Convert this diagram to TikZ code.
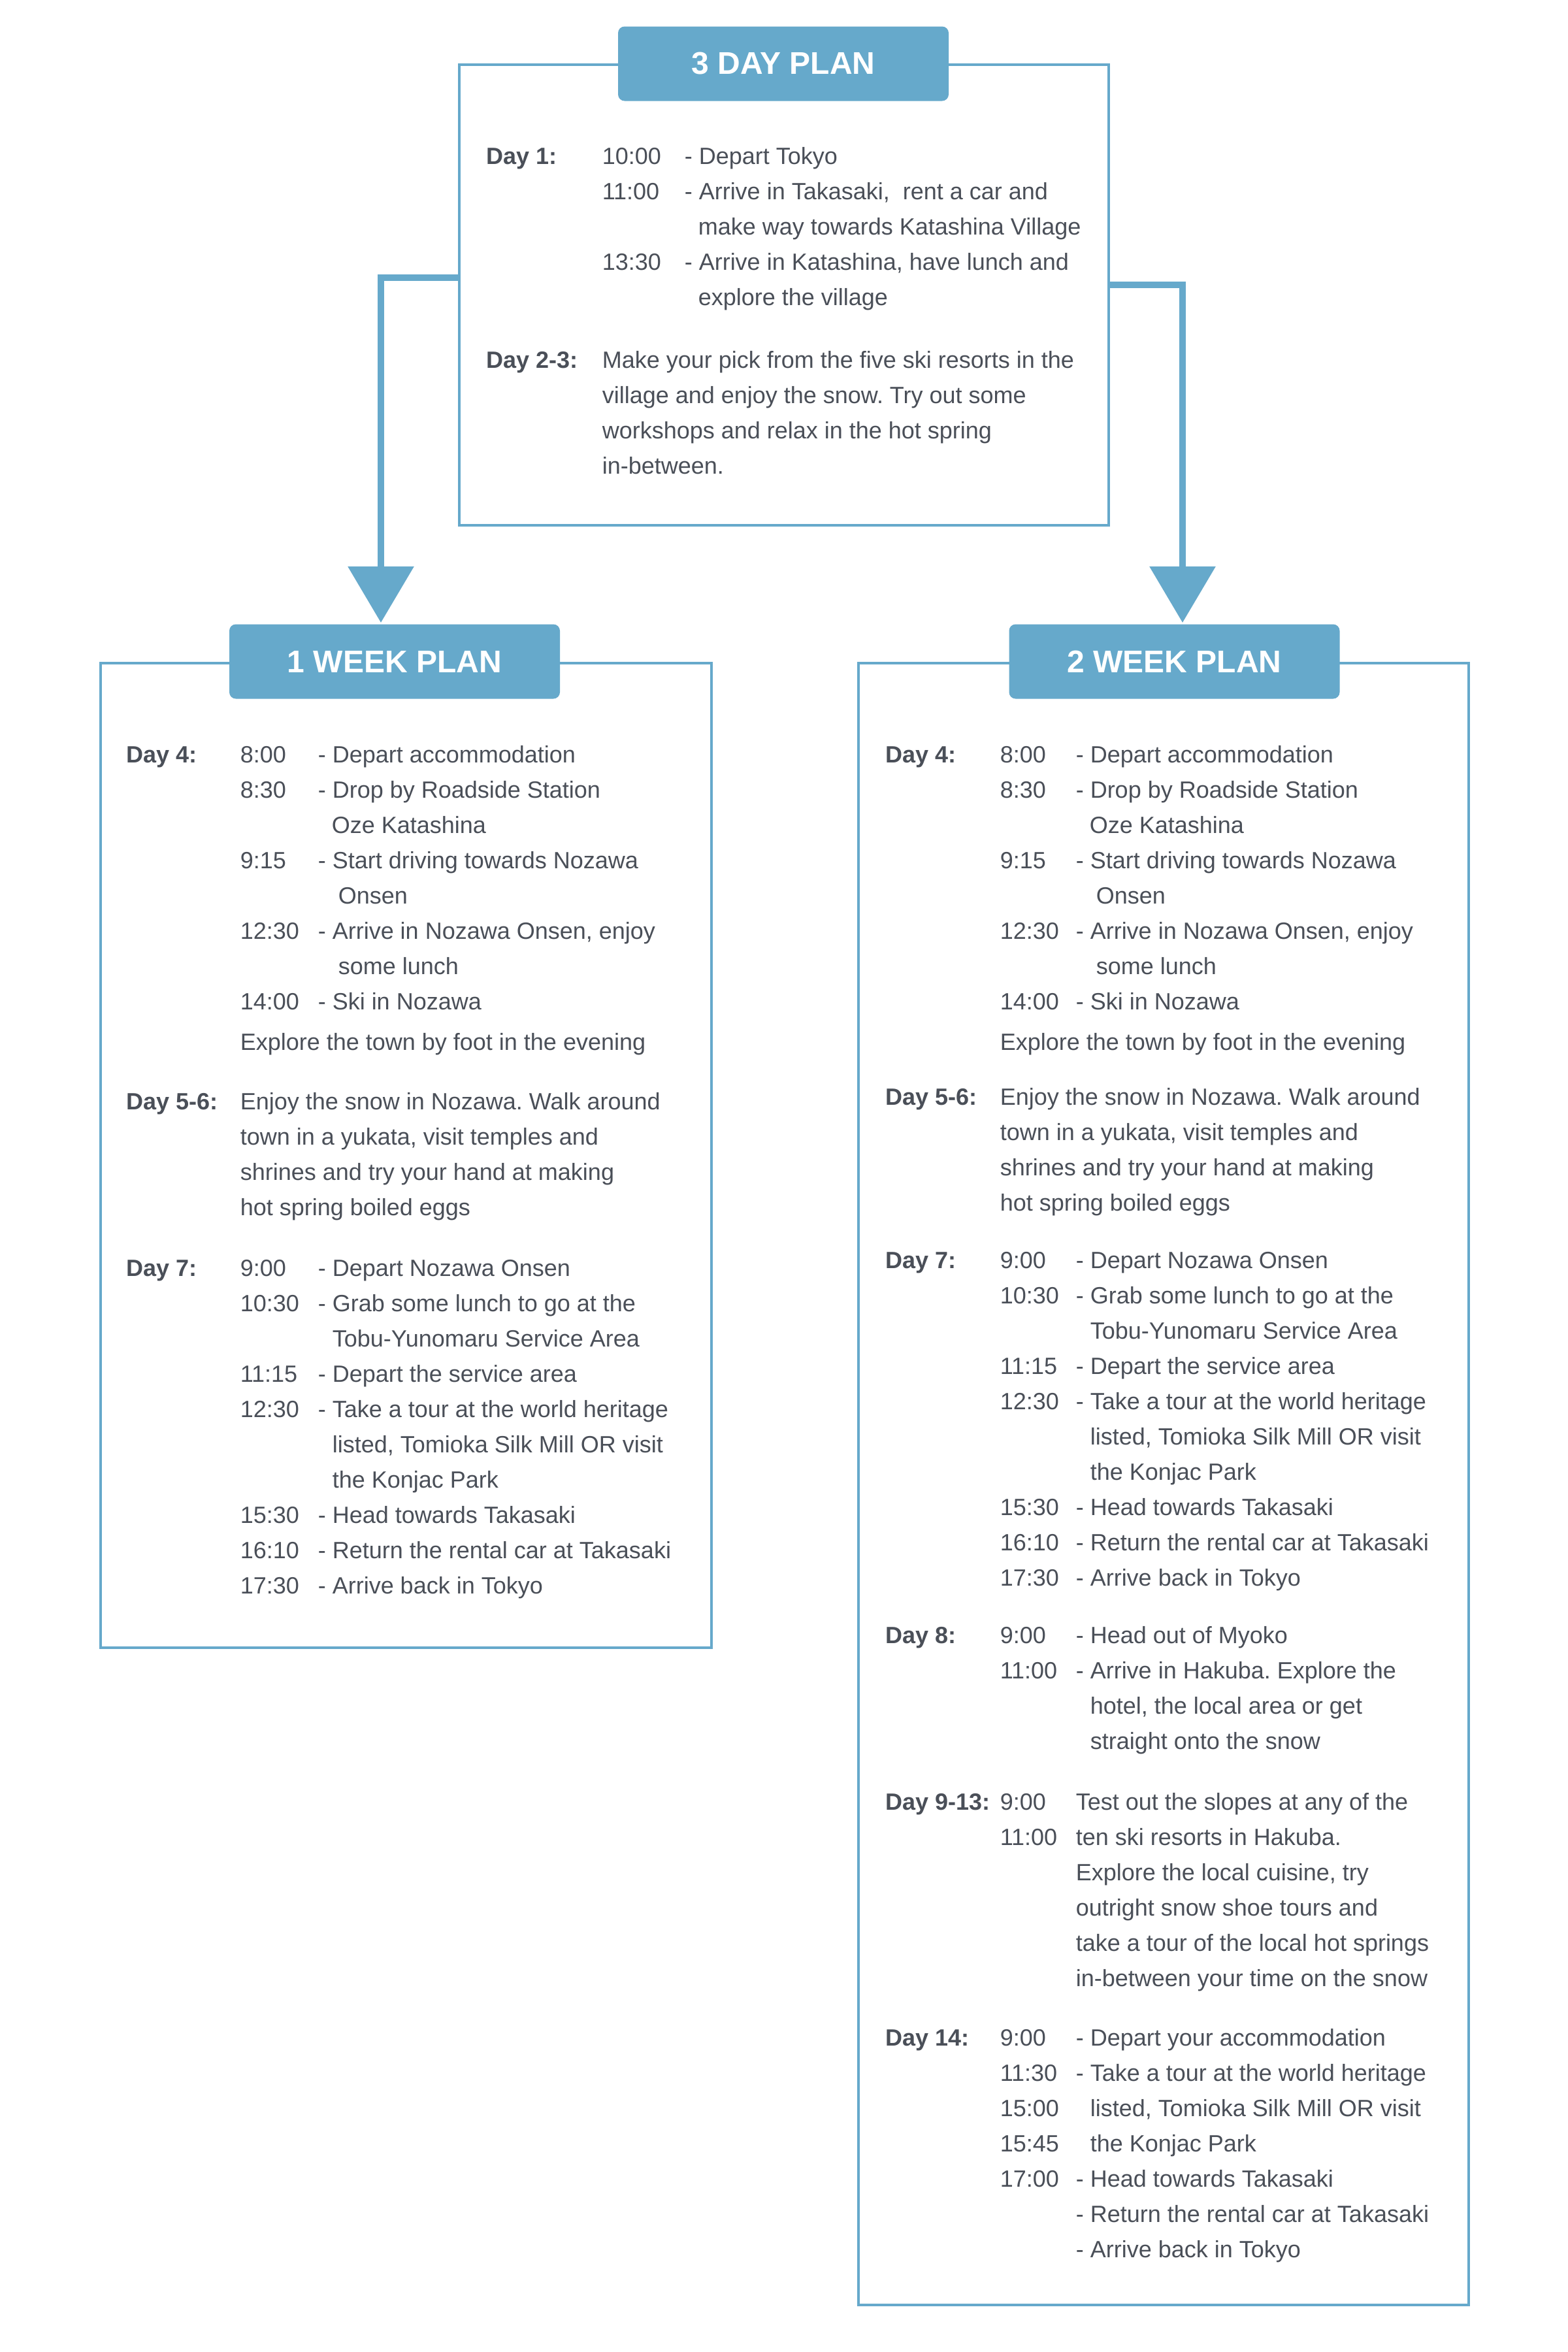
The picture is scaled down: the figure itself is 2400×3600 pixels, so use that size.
\documentclass[tikz,border=0pt]{standalone}
\usepackage{fontspec}
\setmainfont{Liberation Sans}
\usetikzlibrary{arrows.meta}
\frenchspacing
\definecolor{planblue}{HTML}{66A9CB}
\definecolor{ink}{HTML}{4A4F58}
% one day block: label column, time column, text
\newcommand{\plan}[3]{\begin{tabular}[t]{@{}p{#1}@{}p{#2}@{}l@{}}#3\end{tabular}}
\newcommand{\wide}[1]{\multicolumn{2}{@{}l@{}}{#1}}
\newcommand{\dayfour}{\textbf{Day 4:} & 8:00 & - Depart accommodation \\
 & 8:30 & - Drop by Roadside Station \\
 & & \hspace*{5.25pt}Oze Katashina \\
 & 9:15 & - Start driving towards Nozawa \\
 & & \hspace*{7.75pt}Onsen \\
 & 12:30 & - Arrive in Nozawa Onsen, enjoy \\
 & & \hspace*{7.75pt}some lunch \\
 & 14:00 & - Ski in Nozawa \\[2pt]
 & \wide{Explore the town by foot in the evening}}
\newcommand{\dayfivesix}{\textbf{Day 5-6:} & \wide{Enjoy the snow in Nozawa. Walk around} \\
 & \wide{town in a yukata, visit temples and} \\
 & \wide{shrines and try your hand at making} \\
 & \wide{hot spring boiled eggs}}
\newcommand{\dayseven}{\textbf{Day 7:} & 9:00 & - Depart Nozawa Onsen \\
 & 10:30 & - Grab some lunch to go at the \\
 & & \hspace*{5.5pt}Tobu-Yunomaru Service Area \\
 & 11:15 & - Depart the service area \\
 & 12:30 & - Take a tour at the world heritage \\
 & & \hspace*{5.5pt}listed, Tomioka Silk Mill OR visit \\
 & & \hspace*{5.5pt}the Konjac Park \\
 & 15:30 & - Head towards Takasaki \\
 & 16:10 & - Return the rental car at Takasaki \\
 & 17:30 & - Arrive back in Tokyo}
\tikzset{
  frame/.style={draw=planblue, line width=1.1pt},
  title/.style={fill=planblue, text=white, rounded corners=2.5pt, minimum width=126.5pt,
    minimum height=28.5pt, inner sep=0pt, font=\fontsize{12}{14}\selectfont\bfseries},
  link/.style={draw=planblue, line width=2.5pt, -{Triangle[width=24.75pt,length=21.5pt]}},
  sched/.style={text=ink, inner sep=0pt, anchor=base west, font=\fontsize{9}{13.5}\selectfont}
}
\begin{document}
\begin{tikzpicture}[x=0.25pt, y=-0.25pt, line join=miter]
  \useasboundingbox[fill=white] (0,0) rectangle (2400,3600);
  \path
    (703,99) coordinate (tdNW) (1697,804) coordinate (tdSE)
    (154,1015) coordinate (wkNW) (1089,2522) coordinate (wkSE)
    (1314,1015) coordinate (twNW) (2248,3528) coordinate (twSE)
    (703,425) coordinate (tdLeft) (1697,436) coordinate (tdRight)
    (583,953) coordinate (wkTip) (1810,953) coordinate (twTip);
  % frames
  \draw[frame] (tdNW) rectangle (tdSE);
  \draw[frame] (wkNW) rectangle (wkSE);
  \draw[frame] (twNW) rectangle (twSE);
  % connectors
  \draw[link] (tdLeft) -| (wkTip);
  \draw[link] (tdRight) -| (twTip);
  % titles
  \node[title] (tdTitle) at (1199,97.5) {3 DAY PLAN};
  \node[title] (wkTitle) at (604,1012.5) {1 WEEK PLAN};
  \node[title] (twTitle) at (1797.5,1012.5) {2 WEEK PLAN};
  % 3 day plan
  \node[sched] (tdOne) at (744,251) {\plan{44.25pt}{31.5pt}{\textbf{Day 1:} & 10:00 & - Depart Tokyo \\
    & 11:00 & - Arrive in Takasaki,\ \ rent a car and \\
    & & \hspace*{5.25pt}make way towards Katashina Village \\
    & 13:30 & - Arrive in Katashina, have lunch and \\
    & & \hspace*{5.25pt}explore the village}};
  \node[sched] (tdTwo) at (744,563) {\plan{44.25pt}{31.5pt}{\textbf{Day 2-3:} & \wide{Make your pick from the five ski resorts in the} \\
    & \wide{village and enjoy the snow. Try out some} \\
    & \wide{workshops and relax in the hot spring} \\
    & \wide{in-between.}}};
  % 1 week plan
  \node[sched] (wkFour) at (193,1167) {\plan{43.5pt}{29.75pt}{\dayfour}};
  \node[sched] (wkFive) at (193,1698) {\plan{43.5pt}{29.75pt}{\dayfivesix}};
  \node[sched] (wkSeven) at (193,1953) {\plan{43.5pt}{29.75pt}{\dayseven}};
  % 2 week plan
  \node[sched] (twFour) at (1355,1167) {\plan{43.75pt}{29pt}{\dayfour}};
  \node[sched] (twFive) at (1355,1691) {\plan{43.75pt}{29pt}{\dayfivesix}};
  \node[sched] (twSeven) at (1355,1941) {\plan{43.75pt}{29pt}{\dayseven}};
  \node[sched] (twEight) at (1355,2515) {\plan{43.75pt}{29pt}{\textbf{Day 8:} & 9:00 & - Head out of Myoko \\
    & 11:00 & - Arrive in Hakuba. Explore the \\
    & & \hspace*{5.5pt}hotel, the local area or get \\
    & & \hspace*{5.5pt}straight onto the snow}};
  \node[sched] (twNine) at (1355,2770) {\plan{43.75pt}{29pt}{\textbf{Day 9-13:} & 9:00 & Test out the slopes at any of the \\
    & 11:00 & ten ski resorts in Hakuba. \\
    & & Explore the local cuisine, try \\
    & & outright snow shoe tours and \\
    & & take a tour of the local hot springs \\
    & & in-between your time on the snow}};
  \node[sched] (twFourteen) at (1355,3131) {\plan{43.75pt}{29pt}{\textbf{Day 14:} & 9:00 & - Depart your accommodation \\
    & 11:30 & - Take a tour at the world heritage \\
    & 15:00 & \hspace*{5.5pt}listed, Tomioka Silk Mill OR visit \\
    & 15:45 & \hspace*{5.5pt}the Konjac Park \\
    & 17:00 & - Head towards Takasaki \\
    & & - Return the rental car at Takasaki \\
    & & - Arrive back in Tokyo}};
\end{tikzpicture}
\end{document}
